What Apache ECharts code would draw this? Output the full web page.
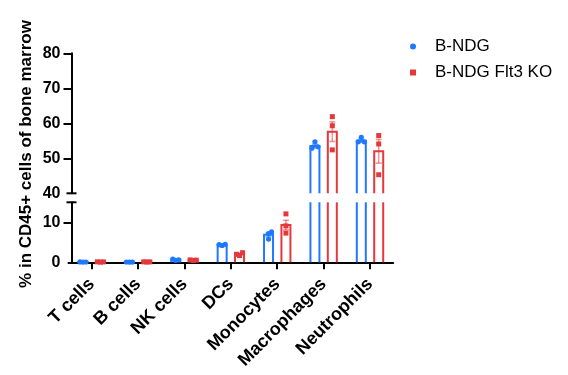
<!DOCTYPE html>
<html>
<head>
<meta charset="utf-8">
<style>
  html, body { margin: 0; padding: 0; background: #fff; }
  #chart { width: 568px; height: 375px; }
</style>
<script src="https://cdn.jsdelivr.net/npm/echarts@6/dist/echarts.min.js"></script>
</head>
<body>
<div id="chart"></div>
<script>
// data
const categories = ['T cells', 'B cells', 'NK cells', 'DCs', 'Monocytes', 'Macrophages', 'Neutrophils'];
const groupNames = ['B-NDG', 'B-NDG Flt3 KO'];

const ndgMean = [0.08, 0.06, 0.62, 4.4, 6.9, 53.5, 55.0];
const ndgSem = [0.02, 0.01, 0.08, 0.1, 0.5, 0.5, 0.4];
const ndgPoints = [
  [0.05, 0.08, 0.1], [0.05, 0.05, 0.08], [0.5, 0.6, 0.8], [4.2, 4.5, 4.4],
  [5.8, 7.2, 7.6], [54.7, 53.3, 52.9], [56.0, 54.7, 54.7]
];

const koMean = [0.09, 0.09, 0.55, 2.05, 9.3, 57.6, 52.0];
const koSem = [0.02, 0.02, 0.05, 0.25, 1.2, 2.8, 3.4];
const koPoints = [
  [0.05, 0.1, 0.12], [0.06, 0.1, 0.12], [0.45, 0.55, 0.6], [1.7, 2.4, 2.0],
  [12.1, 9.1, 7.3], [61.9, 59.3, 52.4], [56.5, 54.1, 45.3]
];

const upperLabels = [40, 50, 60, 70, 80];
const upperTicks = [50, 60, 70, 80];
const lowerLabels = [0, 10];
const lowerTicks = [10];

// layout
const blue = '#1f78ff';
const red = '#e5383b';
const font = '"Liberation Sans", Arial, sans-serif';
const gridLeft = 68.5, gridWidth = 324.7;
const upperTop = 53.3, upperHeight = 140;
const lowerTop = 202.3, lowerHeight = 60;
const upperMin = 40, upperMax = 80, lowerMin = 0, lowerMax = 15;
const yOffset = -3;
const groupOffset = 0.1875;   // in band units
const barFrac = 0.194;
const jitterStep = 0.065;
const capHalf = 0.065;

// spread overlapping points sideways (simple beeswarm)
function swarm(vals, thr) {
  const placed = [];
  const seq = [0, 1, -1, 2, -2];
  return vals.map(v => {
    const near = placed.filter(p => Math.abs(p.v - v) < thr).map(p => p.k);
    let k = 0;
    for (const s of seq) { if (!near.includes(s)) { k = s; break; } }
    placed.push({ v, k });
    return k;
  });
}

function makeRender(means, sems, points, offset, color, shape, lo, hi, thr) {
  return function (params, api) {
    const i = api.value(0);
    const band = api.size([1, 0])[0];
    const cx = api.coord([i, lo])[0] + offset * band;
    const half = barFrac * band / 2;
    const yOf = v => api.coord([i, Math.max(lo, Math.min(hi, v))])[1];
    const children = [];
    const m = means[i];
    const lineStyle = { stroke: color, lineWidth: 2, fill: null };

    if (m > lo) {
      if (m <= hi) {
        children.push({
          type: 'polyline',
          shape: { points: [[cx - half, yOf(lo)], [cx - half, yOf(m)], [cx + half, yOf(m)], [cx + half, yOf(lo)]] },
          style: lineStyle
        });
      } else {
        children.push({ type: 'line', shape: { x1: cx - half, y1: yOf(lo), x2: cx - half, y2: yOf(hi) }, style: lineStyle });
        children.push({ type: 'line', shape: { x1: cx + half, y1: yOf(lo), x2: cx + half, y2: yOf(hi) }, style: lineStyle });
      }
    }

    // error bar (mean +/- SEM)
    const eLo = m - sems[i], eHi = m + sems[i];
    if (eHi > lo && eLo < hi) {
      const es = { stroke: color, lineWidth: 1.5, opacity: 0.55 };
      children.push({ type: 'line', shape: { x1: cx, y1: yOf(eLo), x2: cx, y2: yOf(eHi) }, style: es });
      [eLo, eHi].forEach(e => {
        if (e >= lo && e <= hi) {
          const y = yOf(e);
          children.push({ type: 'line', shape: { x1: cx - capHalf * band, y1: y, x2: cx + capHalf * band, y2: y }, style: es });
        }
      });
    }

    // replicate points
    const vals = points[i];
    const ks = swarm(vals, thr);
    vals.forEach((v, j) => {
      if (v < lo || v > hi) return;
      const px = cx + ks[j] * jitterStep * band;
      const py = api.coord([i, v])[1];
      if (shape === 'circle') {
        children.push({ type: 'circle', shape: { cx: px, cy: py, r: 2.6 }, style: { fill: color } });
      } else {
        children.push({ type: 'rect', shape: { x: px - 2.5, y: py - 2.5, width: 5, height: 5 }, style: { fill: color } });
      }
    });

    return { type: 'group', children };
  };
}

const chart = echarts.init(document.getElementById('chart'), null, { renderer: 'canvas' });
const seriesData = categories.map((c, i) => [i, 0]);

function groupSeries(name, means, sems, points, offset, color, shape) {
  return [
    {
      name, type: 'custom', xAxisIndex: 0, yAxisIndex: 0, data: seriesData,
      itemStyle: { color },
      encode: { x: 0, y: 1 },
      renderItem: makeRender(means, sems, points, offset, color, shape, upperMin, upperMax, 2)
    },
    {
      name, type: 'custom', xAxisIndex: 1, yAxisIndex: 1, data: seriesData,
      itemStyle: { color },
      encode: { x: 0, y: 1 },
      renderItem: makeRender(means, sems, points, offset, color, shape, lowerMin, lowerMax, 1.2)
    }
  ];
}

const axisLineStyle = { show: true, lineStyle: { color: '#000', width: 2 } };
const tickLabel = { color: '#000', fontSize: 16, fontWeight: 'bold', fontFamily: font, margin: 11 };

const option = {
  animation: false,
  backgroundColor: '#fff',
  textStyle: { fontFamily: font },
  grid: [
    { left: gridLeft, width: gridWidth, top: upperTop, height: upperHeight, containLabel: false },
    { left: gridLeft, width: gridWidth, top: lowerTop, height: lowerHeight, containLabel: false }
  ],
  legend: {
    orient: 'vertical',
    left: 405,
    top: 33,
    itemWidth: 6,
    itemHeight: 6,
    itemGap: 9,
    textStyle: { color: '#000', fontSize: 17, fontFamily: font, padding: [0, 0, 0, 14] },
    data: [
      { name: groupNames[0], icon: 'circle' },
      { name: groupNames[1], icon: 'rect' }
    ]
  },
  xAxis: [
    { type: 'category', gridIndex: 0, data: categories, show: false },
    {
      type: 'category', gridIndex: 1, data: categories,
      axisLine: axisLineStyle,
      axisTick: { show: true, alignWithLabel: true, length: 7, lineStyle: { color: '#000', width: 2 } },
      axisLabel: { interval: 0, rotate: 45, color: '#000', fontSize: 18, fontWeight: 'bold', fontFamily: font, margin: 19 }
    }
  ],
  yAxis: [
    {
      type: 'value', gridIndex: 0, min: upperMin, max: upperMax, interval: 10, offset: yOffset,
      splitLine: { show: false },
      axisLine: axisLineStyle,
      axisTick: { show: true, length: 8, customValues: upperTicks, lineStyle: { color: '#000', width: 2 } },
      axisLabel: Object.assign({ customValues: upperLabels }, tickLabel)
    },
    {
      type: 'value', gridIndex: 1, min: lowerMin, max: lowerMax, interval: 10, offset: yOffset,
      splitLine: { show: false },
      axisLine: axisLineStyle,
      axisTick: { show: true, length: 8, customValues: lowerTicks, lineStyle: { color: '#000', width: 2 } },
      axisLabel: Object.assign({ customValues: lowerLabels }, tickLabel)
    }
  ],
  series: [].concat(
    groupSeries(groupNames[0], ndgMean, ndgSem, ndgPoints, -groupOffset, blue, 'circle'),
    groupSeries(groupNames[1], koMean, koSem, koPoints, groupOffset, red, 'rect')
  )
};

chart.setOption(option);

// axis break marks and the shared y title
const axisX = gridLeft - yOffset;
const yUpperBreak = chart.convertToPixel({ yAxisIndex: 0 }, upperMin);
const yLowerBreak = chart.convertToPixel({ yAxisIndex: 1 }, lowerMax);
chart.setOption({
  graphic: [
    { type: 'line', shape: { x1: axisX - 5, y1: yUpperBreak, x2: axisX + 5, y2: yUpperBreak }, style: { stroke: '#000', lineWidth: 2 } },
    { type: 'line', shape: { x1: axisX - 5, y1: yLowerBreak, x2: axisX + 5, y2: yLowerBreak }, style: { stroke: '#000', lineWidth: 2 } },
    {
      type: 'text', x: 26, y: 154, rotation: Math.PI / 2,
      style: {
        text: '% in CD45+ cells of bone marrow',
        fill: '#000', fontSize: 17, fontWeight: 'bold', fontFamily: font,
        align: 'center', verticalAlign: 'middle'
      }
    }
  ]
});
</script>
</body>
</html>
